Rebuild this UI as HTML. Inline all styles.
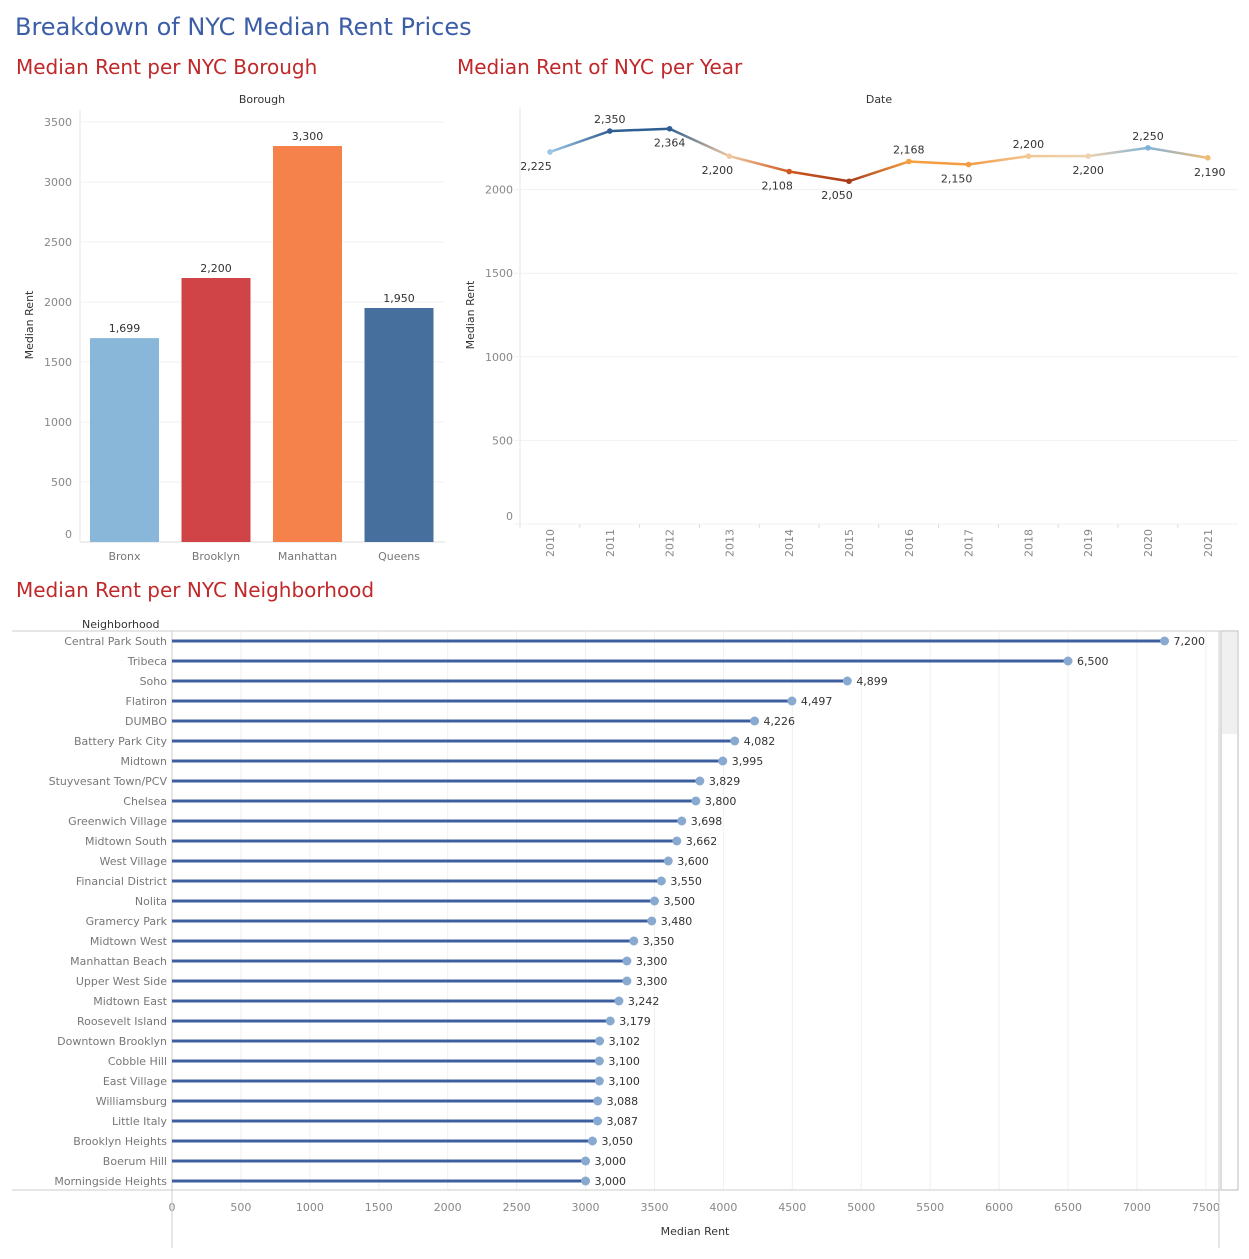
<!DOCTYPE html>
<html><head><meta charset="utf-8">
<style>
body{margin:0;background:#fff;font-family:"DejaVu Sans","Liberation Sans",sans-serif;}
svg{display:block}
text{font-family:"DejaVu Sans","Liberation Sans",sans-serif;}
</style></head>
<body>
<svg id="chart" width="1249" height="1259" viewBox="0 0 1249 1259">
<text x="15" y="35" font-size="24" fill="#3b5ea6">Breakdown of NYC Median Rent Prices</text>
<text x="16" y="74" font-size="20" fill="#c0282a">Median Rent per NYC Borough</text>
<text x="457" y="74" font-size="20" fill="#c0282a">Median Rent of NYC per Year</text>
<text x="16" y="597" font-size="20" fill="#c0282a">Median Rent per NYC Neighborhood</text>
<g id="bar"></g><g id="line"></g><g id="lolli"></g>
</svg>
<script>
const NS="http://www.w3.org/2000/svg";
function mk(p,tag,attrs,txt){const e=document.createElementNS(NS,tag);for(const k in attrs)e.setAttribute(k,attrs[k]);if(txt!==undefined)e.textContent=txt;p.appendChild(e);return e;}
const fmt=v=>v.toLocaleString('en-US');

// ---- Borough bar chart data
const boroughs=["Bronx","Brooklyn","Manhattan","Queens"];
const boroughRent=[1699,2200,3300,1950];
const boroughColors=["#89b7da","#d04346","#f4824a","#476f9e"];
const barTicks=[0,500,1000,1500,2000,2500,3000,3500];

// ---- Year line chart data
const years=["2010","2011","2012","2013","2014","2015","2016","2017","2018","2019","2020","2021"];
const yearRent=[2225,2350,2364,2200,2108,2050,2168,2150,2200,2200,2250,2190];
const yearColors=["#9cc7e4","#2f5f92","#2f5f92","#f0c9a2","#d0581f","#a63b19","#f5a03e","#f39a43","#f2c893","#ecd2ae","#7fb3da","#f1bb76"];
const labelBelow=[true,false,true,true,true,true,false,true,false,true,false,true];
const lineTicks=[0,500,1000,1500,2000];

// ---- Neighborhood lollipop data
const hoods=["Central Park South","Tribeca","Soho","Flatiron","DUMBO","Battery Park City","Midtown","Stuyvesant Town/PCV","Chelsea","Greenwich Village","Midtown South","West Village","Financial District","Nolita","Gramercy Park","Midtown West","Manhattan Beach","Upper West Side","Midtown East","Roosevelt Island","Downtown Brooklyn","Cobble Hill","East Village","Williamsburg","Little Italy","Brooklyn Heights","Boerum Hill","Morningside Heights"];
const hoodRent=[7200,6500,4899,4497,4226,4082,3995,3829,3800,3698,3662,3600,3550,3500,3480,3350,3300,3300,3242,3179,3102,3100,3100,3088,3087,3050,3000,3000];
const hoodTicks=[0,500,1000,1500,2000,2500,3000,3500,4000,4500,5000,5500,6000,6500,7000,7500];

// ===== Bar chart
(function(){
const g=document.getElementById('bar');
const x0=80,x1=445,y0=542,k=0.12,pitch=91.5,bw=69,bx0=90;
const Y=v=>y0-v*k;
mk(g,'text',{x:262,y:103,'font-size':11,fill:'#333','text-anchor':'middle',},'Borough');
mk(g,'line',{x1:x0,y1:110,x2:x0,y2:y0,stroke:'#e6e6e6'});
barTicks.forEach(t=>{
 const l=mk(g,'line',{x1:x0,x2:x1,y1:Y(t),y2:Y(t),stroke:t===0?'#ddd':'#f0f0f0'});
 
 
 const tx=mk(g,'text',{x:72,y:t===0?Y(t)-4:Y(t)+4,'font-size':11,fill:'#888','text-anchor':'end'},String(t));
 
 
});
const yt=mk(g,'text',{x:33,y:325,'font-size':11,fill:'#333','text-anchor':'middle',transform:'rotate(-90 33 325)'},'Median Rent');


boroughs.forEach((b,i)=>{
 const x=bx0+i*pitch,v=boroughRent[i];
 const r=mk(g,'rect',{x:x,y:Y(v),width:bw,height:v*k,fill:boroughColors[i]});
 
 
 const lb=mk(g,'text',{x:x+bw/2,y:Y(v)-6,'font-size':11,fill:'#333','text-anchor':'middle'},fmt(v));
 
 
 const c=mk(g,'text',{x:x+bw/2,y:560,'font-size':11,fill:'#777','text-anchor':'middle'},b);
 
 
});
})();

// ===== Line chart
(function(){
const g=document.getElementById('line');
const x0=520,x1=1238,y0=524,k=0.1672,pitch=59.8;
const X=i=>x0+30+i*pitch, Y=v=>y0-v*k;
mk(g,'text',{x:879,y:103,'font-size':11,fill:'#333','text-anchor':'middle',},'Date');
mk(g,'line',{x1:x0,y1:108,x2:x0,y2:y0,stroke:'#e6e6e6'});
lineTicks.forEach(t=>{
 const l=mk(g,'line',{x1:x0-6,x2:x1,y1:Y(t),y2:Y(t),stroke:'#f0f0f0'});
 
 
 const tx=mk(g,'text',{x:513,y:t===0?Y(t)-4:Y(t)+4,'font-size':11,fill:'#888','text-anchor':'end'},String(t));
 
 
});
const yt=mk(g,'text',{x:474,y:315,'font-size':11,fill:'#333','text-anchor':'middle',transform:'rotate(-90 474 315)'},'Median Rent');


const defs=mk(g,'defs',{});
years.forEach((yr,i)=>{
 mk(g,'line',{x1:x0+i*pitch,x2:x0+i*pitch,y1:y0,y2:y0+4,stroke:'#ddd'});
 const t=mk(g,'text',{x:0,y:0,'font-size':11,fill:'#888','text-anchor':'middle',transform:`translate(${X(i)+4},${543}) rotate(-90)`},yr);
 
 
 if(i<years.length-1){
  const gid='lg'+i;
  const lg=mk(defs,'linearGradient',{id:gid,gradientUnits:'userSpaceOnUse',x1:X(i),y1:0,x2:X(i+1),y2:0});
  mk(lg,'stop',{offset:'0','stop-color':yearColors[i]});
  mk(lg,'stop',{offset:'1','stop-color':yearColors[i+1]});
  const s=mk(g,'line',{x1:X(i),y1:Y(yearRent[i]),x2:X(i+1),y2:Y(yearRent[i+1]),stroke:`url(#${gid})`,'stroke-width':2.5,'stroke-linecap':'round'});
  
  
 }
});
years.forEach((yr,i)=>{
 const c=mk(g,'circle',{cx:X(i),cy:Y(yearRent[i]),r:2.8,fill:yearColors[i]});
 
 
 const ly=labelBelow[i]?Y(yearRent[i])+18:Y(yearRent[i])-8;
 const dx=(i===0)?-14:(i===years.length-1?2:(labelBelow[i]&&i>0&&yearRent[i]<yearRent[i-1]?-12:0));
 const lb=mk(g,'text',{x:X(i)+dx,y:ly,'font-size':11,fill:'#333','text-anchor':'middle'},fmt(yearRent[i]));
 
 
});
})();

// ===== Lollipop chart
(function(){
const g=document.getElementById('lolli');
const x0=172,k=0.13785,rowY0=641,pitch=20,top=631,bot=1190;
const X=v=>x0+v*k, Y=i=>rowY0+i*pitch;
mk(g,'text',{x:82,y:628,'font-size':11,fill:'#333',},'Neighborhood');
mk(g,'line',{x1:12,x2:1220,y1:top,y2:top,stroke:'#ccc'});
hoodTicks.forEach(t=>{
 const l=mk(g,'line',{x1:X(t),x2:X(t),y1:top,y2:bot,stroke:'#f0f0f0'});
 
 
 const tx=mk(g,'text',{x:X(t),y:1211,'font-size':11,fill:'#888','text-anchor':'middle'},String(t));
 
 
});
mk(g,'line',{x1:x0,x2:x0,y1:top,y2:1248,stroke:'#ccc'});
mk(g,'line',{x1:1219,x2:1219,y1:top,y2:1248,stroke:'#ccc'});
mk(g,'line',{x1:12,x2:1220,y1:bot,y2:bot,stroke:'#ccc'});
hoods.forEach((h,i)=>{
 const v=hoodRent[i],y=Y(i);
 const n=mk(g,'text',{x:167,y:y+4,'font-size':11,fill:'#777','text-anchor':'end'},h);
 
 
 const s=mk(g,'line',{x1:x0,x2:X(v),y1:y,y2:y,stroke:'#3d5f9f','stroke-width':3});
 
 
 const c=mk(g,'circle',{cx:X(v),cy:y,r:4.5,fill:'#88a9d0'});
 
 
 const lb=mk(g,'text',{x:X(v)+9,y:y+4,'font-size':11,fill:'#333'},fmt(v));
 
 
});
mk(g,'text',{x:695,y:1235,'font-size':11,fill:'#333','text-anchor':'middle',},'Median Rent');
mk(g,'rect',{x:1221,y:top,width:17,height:bot-top,fill:'#fff',stroke:'#bbb',});
mk(g,'rect',{x:1222,y:top+1,width:15,height:102,fill:'#f0f0f0',});
})();
</script>
</body></html>
